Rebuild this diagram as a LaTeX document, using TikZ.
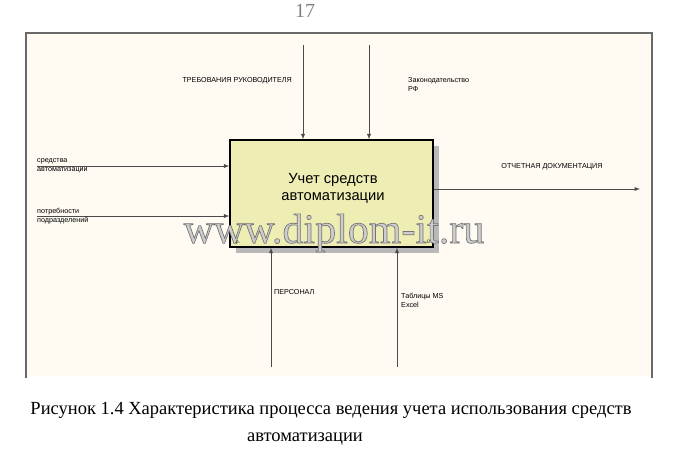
\documentclass[tikz,border=0pt]{standalone}
\usepackage{fontspec}
\setmainfont{Liberation Serif}
\newfontfamily\arialfont{Liberation Sans}
\newfontfamily\wmfont[FakeBold=1.6]{Liberation Serif}
\usetikzlibrary{arrows,positioning}
\definecolor{paper}{RGB}{255,251,243}
\definecolor{boxfill}{RGB}{238,238,180}
\definecolor{linegray}{RGB}{75,75,75}
\definecolor{framegray}{RGB}{105,105,105}
\definecolor{wmlight}{RGB}{205,205,205}
\tikzset{%
	func/.style     = {draw=black, line width=1.3pt, fill=boxfill, minimum width=203pt, minimum height=107pt, inner sep=0pt}, % Function box
	flow/.style     = {draw=linegray, line width=0.9pt, -latex}, % Arrow
	lbl/.style      = {font=\arialfont\fontsize{7.2}{9.5}\selectfont, inner sep=0pt, align=left}, % Arrow label
	cornerlbl/.style= {font=\arialfont\fontsize{5}{5}\selectfont, inner sep=0pt},
}

\begin{document}
\begin{tikzpicture}[x=1pt,y=-1pt]
	\useasboundingbox (0,0) rectangle (677,460);
	\fill[paper] (27,33) rectangle (652,376);
	\draw[framegray, line width=1.4pt] (26,378) -- (26,33) -- (652,33) -- (652,378);
	\node[anchor=base, text=gray, font=\fontsize{20}{20}\selectfont] (pagenum) at (305,18) {17};
	
	% function box
	\fill[gray!55] (236,146) rectangle (439,253);
	\node[func] (proc) at (331.5,193.5) {};
	\node[align=center, font=\arialfont\fontsize{14.7}{17}\selectfont] (title) at (333,188) {Учет средств\\автоматизации};
	\node[cornerlbl, anchor=west] (nodeno) at (233,242) {0р.};
	\node[cornerlbl, anchor=east] (cost) at (430,242) {0};
	
	% controls
	\coordinate (ctl1) at (303,45);
	\coordinate (ctl2) at (369,45);
	\draw[flow] (ctl1) -- (ctl1 |- proc.north);
	\draw[flow] (ctl2) -- (ctl2 |- proc.north);
	\node[lbl, anchor=east] (ctl1lbl) at (292,81) {ТРЕБОВАНИЯ РУКОВОДИТЕЛЯ};
	\node[lbl, anchor=west] (ctl2lbl) at (408,84.5) {Законодательство\\РФ};
	
	% inputs
	\coordinate (in1) at (37,166);
	\coordinate (in2) at (37,216);
	\draw[flow] (in1) -- (in1 -| proc.west);
	\draw[flow] (in2) -- (in2 -| proc.west);
	\node[lbl, anchor=west] (in1lbl) at (37,166) {средства\\автоматизации};
	\node[lbl, anchor=west] (in2lbl) at (37,216) {потребности\\подразделений};
	
	% output
	\coordinate (out1) at (640,189);
	\draw[flow] (proc.east |- out1) -- (out1);
	\node[lbl] (out1lbl) at (552,167) {ОТЧЕТНАЯ ДОКУМЕНТАЦИЯ};
	
	% mechanisms
	\coordinate (mech1) at (271,367);
	\coordinate (mech2) at (397,367);
	\draw[flow] (mech1) -- (mech1 |- proc.south);
	\draw[flow] (mech2) -- (mech2 |- proc.south);
	\node[lbl, anchor=west] (mech1lbl) at (274,292) {ПЕРСОНАЛ};
	\node[lbl, anchor=west] (mech2lbl) at (401,300.5) {Таблицы MS\\Excel};
	
	% watermark, grey letters with a darker outline
	\node[anchor=base, text=wmlight, font=\wmfont\fontsize{42}{42}\selectfont] (wm) at (334,243) {\special{pdf:literal direct 0.45 G}www.diplom-it.ru};
	
	% caption
	\node[anchor=base, font=\fontsize{18.5}{22}\selectfont] (caption1) at (331,414) {Рисунок 1.4 Характеристика процесса ведения учета использования средств};
	\node[anchor=base, font=\fontsize{18.5}{22}\selectfont] (caption2) at (305,441) {автоматизации};
\end{tikzpicture}
\end{document}
